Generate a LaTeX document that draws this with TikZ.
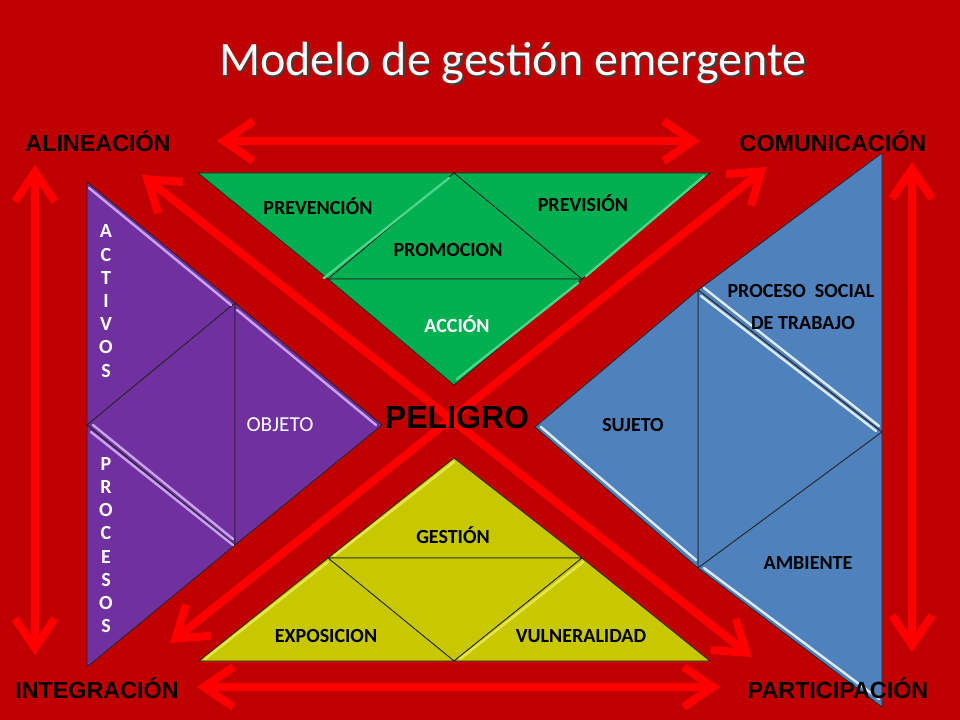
\documentclass[tikz,border=0pt]{standalone}
\usepackage{fontspec}
\setmainfont{Carlito}
\newfontfamily\arialfont{Liberation Sans}
\usetikzlibrary{arrows.meta}

\definecolor{bgred}{HTML}{C00000}
\definecolor{arrred}{HTML}{FF0000}
\definecolor{tgreen}{HTML}{00B050}
\definecolor{tyellow}{HTML}{C8C800}
\definecolor{tpurple}{HTML}{7030A0}
\definecolor{tblue}{HTML}{4F81BD}
\definecolor{hgreen}{HTML}{4CD68A}
\definecolor{hyellow}{HTML}{E6E64A}
\definecolor{hpurple}{HTML}{C8A2F0}
\definecolor{hblue}{HTML}{DCEAF8}

\begin{document}
\begin{tikzpicture}[x=0.75pt,y=-0.75pt,
	arr/.style={draw=arrred,line width=6pt,
		{Straight Barb[length=22pt,width=30pt]}-{Straight Barb[length=22pt,width=30pt]}},
	piece/.style={draw=black!85,line width=0.6pt},
	bev/.style={line width=1.8pt,line cap=round},
	corner/.style={font=\arialfont\bfseries\fontsize{17.5}{20}\selectfont,text=black},
	tag/.style={font=\bfseries\fontsize{15}{18}\selectfont,text=black},
	vtag/.style={font=\bfseries\fontsize{15}{17.4}\selectfont,text=white,align=center}]

	\useasboundingbox (0,0) rectangle (960,720);
	\fill[bgred] (0,0) rectangle (960,720);

	% title
	\node[text=black!75,font=\fontsize{36}{42}\selectfont] at (514.5,64.5) {Modelo de gestión emergente};
	\node[text=white,font=\fontsize{36}{42}\selectfont] (title) at (513,63) {Modelo de gestión emergente};

	% arrow end points
	\coordinate (tl) at (217,141);
	\coordinate (tr) at (700,141);
	\coordinate (bl) at (197,687);
	\coordinate (br) at (720,687);
	\coordinate (lt) at (35,165);
	\coordinate (lb) at (35,655);
	\coordinate (rt) at (912,162);
	\coordinate (rb) at (912,652);
	\coordinate (d1a) at (142,175);
	\coordinate (d1b) at (752,657);
	\coordinate (d2a) at (170,643);
	\coordinate (d2b) at (767,167);

	\draw[arr] (tl) -- (tr);
	\draw[arr] (bl) -- (br);
	\draw[arr] (lt) -- (lb);
	\draw[arr] (rt) -- (rb);
	\draw[arr] (d1a) -- (d1b);
	\draw[arr] (d2a) -- (d2b);

	% green triangle
	\coordinate (g1) at (198,173);
	\coordinate (g2) at (454,173);
	\coordinate (g3) at (710,173);
	\coordinate (g4) at (328,279);
	\coordinate (g5) at (582,279);
	\coordinate (g6) at (454,385);
	\filldraw[piece,fill=tgreen] (g1) -- (g2) -- (g4) -- cycle;
	\filldraw[piece,fill=tgreen] (g2) -- (g5) -- (g4) -- cycle;
	\filldraw[piece,fill=tgreen] (g2) -- (g3) -- (g5) -- cycle;
	\filldraw[piece,fill=tgreen] (g4) -- (g5) -- (g6) -- cycle;
	\draw[bev,hgreen] ([shift={(-4,-1)}]g4) -- ([shift={(-5,5)}]g2);
	\draw[bev,hgreen] ([shift={(4,-3)}]g5) -- ([shift={(-6,3)}]g3);
	\draw[bev,hgreen] ([shift={(3,-6)}]g6) -- ([shift={(-4,4)}]g5);

	% yellow triangle
	\coordinate (y1) at (454,458);
	\coordinate (y2) at (328,558);
	\coordinate (y3) at (582,558);
	\coordinate (y4) at (199,661);
	\coordinate (y5) at (454,661);
	\coordinate (y6) at (710,661);
	\filldraw[piece,fill=tyellow] (y1) -- (y2) -- (y3) -- cycle;
	\filldraw[piece,fill=tyellow] (y2) -- (y3) -- (y5) -- cycle;
	\filldraw[piece,fill=tyellow] (y4) -- (y2) -- (y5) -- cycle;
	\filldraw[piece,fill=tyellow] (y5) -- (y3) -- (y6) -- cycle;
	\draw[bev,hyellow] ([shift={(6,-2)}]y2) -- ([shift={(0,4)}]y1);
	\draw[bev,hyellow] ([shift={(6,-2)}]y4) -- ([shift={(0,4)}]y2);
	\draw[bev,hyellow] ([shift={(6,-2)}]y5) -- ([shift={(1,4)}]y3);

	% purple triangle
	\coordinate (p1) at (87,182);
	\coordinate (p2) at (235,303);
	\coordinate (p3) at (87,425);
	\coordinate (p4) at (382,425);
	\coordinate (p5) at (235,545);
	\coordinate (p6) at (87,667);
	\filldraw[piece,fill=tpurple] (p1) -- (p2) -- (p3) -- cycle;
	\filldraw[piece,fill=tpurple] (p3) -- (p2) -- (p5) -- cycle;
	\filldraw[piece,fill=tpurple] (p2) -- (p4) -- (p5) -- cycle;
	\filldraw[piece,fill=tpurple] (p3) -- (p5) -- (p6) -- cycle;
	\draw[bev,hpurple] ([shift={(2,6)}]p1) -- ([shift={(-4,2)}]p2);
	\draw[bev,hpurple] ([shift={(2,7)}]p2) -- ([shift={(-6,0)}]p4);
	\draw[bev,hpurple] ([shift={(4,7)}]p3) -- ([shift={(-2,0)}]p5);
	\draw[bev,hpurple] ([shift={(6,0)}]p3) -- ([shift={(-2,-6)}]p5);

	% blue triangle
	\coordinate (b1) at (882,153);
	\coordinate (b2) at (698,290);
	\coordinate (b3) at (882,432);
	\coordinate (b4) at (535,427);
	\coordinate (b5) at (698,568);
	\coordinate (b6) at (882,707);
	\filldraw[piece,fill=tblue] (b1) -- (b2) -- (b3) -- cycle;
	\filldraw[piece,fill=tblue] (b2) -- (b3) -- (b5) -- cycle;
	\filldraw[piece,fill=tblue] (b4) -- (b2) -- (b5) -- cycle;
	\filldraw[piece,fill=tblue] (b5) -- (b3) -- (b6) -- cycle;
	\draw[bev,hblue] ([shift={(6,0)}]b4) -- ([shift={(-2,-8)}]b5);
	\draw[bev,hblue] ([shift={(6,-2)}]b2) -- ([shift={(-3,-6)}]b3);
	\draw[bev,hblue] ([shift={(3,6)}]b2) -- ([shift={(-6,-1)}]b3);
	\draw[bev,hblue] ([shift={(6,0)}]b5) -- ([shift={(-3,-8)}]b6);

	% corner labels
	\node[corner] (alin) at (98,141) {ALINEACIÓN};
	\node[corner] (comu) at (833,141) {COMUNICACIÓN};
	\node[corner] (inte) at (97,688) {INTEGRACIÓN};
	\node[corner] (part) at (838,688) {PARTICIPACIÓN};

	% piece labels
	\node[tag] (prev) at (318,206) {PREVENCIÓN};
	\node[tag] (previ) at (583,203) {PREVISIÓN};
	\node[tag] (prom) at (448,250) {PROMOCION};
	\node[tag,text=white] (acc) at (457,324) {ACCIÓN};
	\node[tag] (gest) at (453,535) {GESTIÓN};
	\node[tag] (expo) at (326,636) {EXPOSICION};
	\node[tag] (vuln) at (581,636) {VULNERALIDAD};
	\node[tag] (suj) at (633,425) {SUJETO};
	\node[tag] (amb) at (808,563) {AMBIENTE};
	\node[tag] (proc) at (801,291) {PROCESO\ \ SOCIAL};
	\node[tag] (trab) at (803,323) {DE TRABAJO};
	\node[font=\fontsize{16}{18}\selectfont,text=white] (obj) at (280,425) {OBJETO};
	\node[vtag] (activ) at (106,301) {A\\C\\T\\I\\V\\O\\S};
	\node[vtag] (proces) at (106,545) {P\\R\\O\\C\\E\\S\\O\\S};
	\node[font=\arialfont\bfseries\fontsize{24}{28}\selectfont,text=black] (pel) at (457,417) {PELIGRO};
\end{tikzpicture}
\end{document}
